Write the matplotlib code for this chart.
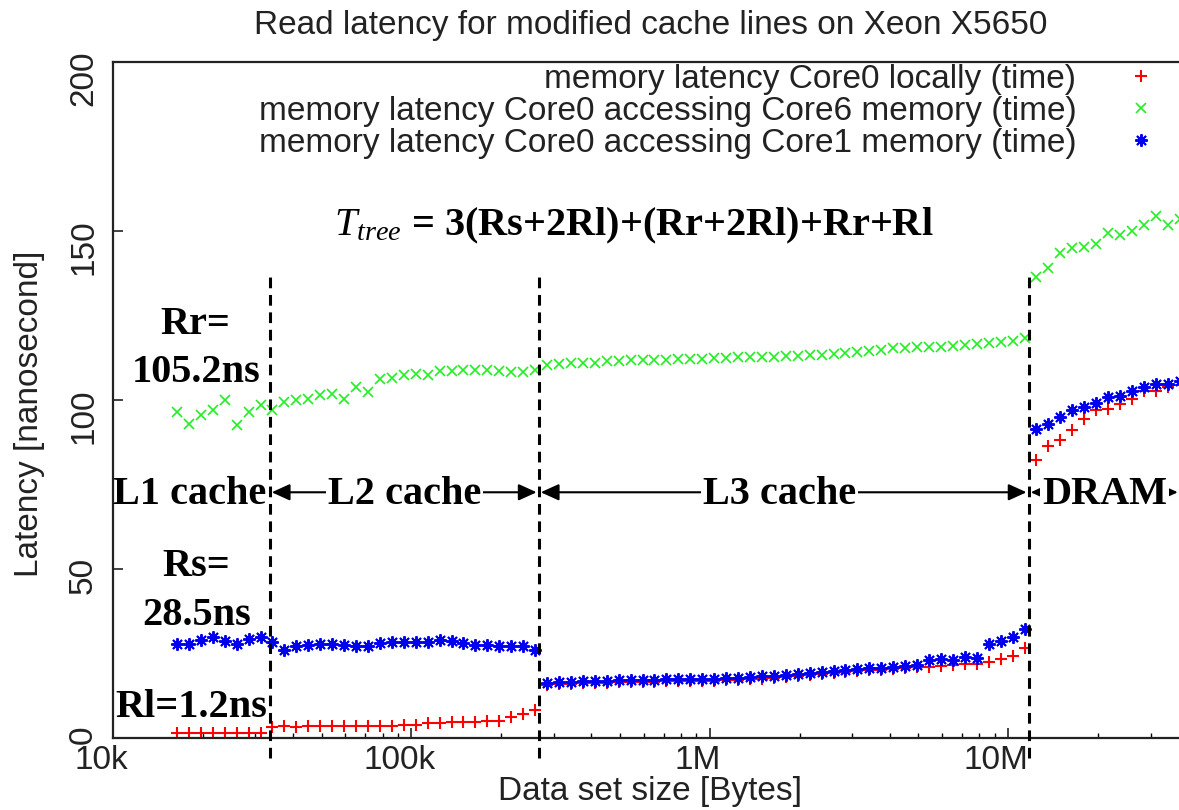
import matplotlib

matplotlib.use("Agg")
import matplotlib.pyplot as plt
import numpy as np
from matplotlib.ticker import LogLocator, NullFormatter
from matplotlib.transforms import ScaledTranslation

# benchmark sizes in bytes: 16 KiB upwards, 25 steps per decade
sizes = 16384 * 10 ** (np.arange(86) / 25)

# latency in ns, split by cache level (L1, L2, L3, DRAM)
local_l1 = [1.5, 1.6, 1.5, 1.6, 1.6, 1.5, 1.6, 1.6]
local_l2 = [3.4, 3.5, 3.4, 3.5, 3.5, 3.5, 3.5, 3.6, 3.5, 3.6, 3.6, 3.7,
            3.8, 4.3, 4.5, 4.6, 4.7, 4.8, 4.9, 5.0, 6.3, 7.2, 8.2]
local_l3 = [15.8, 15.9, 16.0, 16.2, 16.3, 16.4, 16.5, 16.6, 16.6, 16.7,
            16.8, 16.8, 16.9, 16.9, 17.0, 17.1, 17.2, 17.4, 17.6, 17.8,
            18.1, 18.4, 18.6, 18.9, 19.2, 19.4, 19.7, 20.0, 20.2, 20.5,
            20.7, 20.9, 21.0, 21.3, 21.6, 21.8, 22.0, 22.6, 23.5, 24.3, 26.5]
local_dram = [82.2, 86.5, 88.1, 91.1, 94.5, 97.0, 97.2, 98.9, 100.4,
              102.8, 102.8, 103.8, 104.5, 105.0]

core6_l1 = [96.5, 93.0, 95.5, 97.0, 99.9, 92.5, 96.5, 98.4]
core6_l2 = [97.0, 99.4, 99.9, 100.4, 101.4, 101.9, 100.4, 103.8, 102.4,
            106.3, 106.5, 107.3, 107.8, 107.4, 108.7, 108.7, 109.0, 109.0,
            109.0, 108.7, 108.4, 108.4, 109.0]
core6_l3 = [110.5, 110.7, 110.9, 111.0, 111.0, 111.4, 111.6, 111.8, 111.8,
            111.8, 111.9, 112.0, 112.1, 112.2, 112.4, 112.5, 112.6, 112.6,
            112.8, 112.8, 112.9, 113.0, 113.2, 113.4, 113.5, 113.8, 114.2,
            114.5, 114.9, 115.3, 115.5, 115.6, 115.7, 115.8, 116.0, 116.3,
            116.6, 116.8, 117.1, 117.6, 118.3]
core6_dram = [136.5, 139.1, 143.5, 145.0, 145.3, 146.3, 149.4, 148.9,
              150.0, 151.9, 154.3, 151.9, 153.5, 155.0]

core1_l1 = [27.9, 27.8, 29.1, 29.8, 28.8, 27.9, 29.3, 29.8]
core1_l2 = [28.3, 25.9, 27.1, 27.6, 27.8, 27.8, 27.5, 27.3, 27.1, 28.2,
            28.3, 28.4, 28.3, 28.5, 29.0, 28.6, 28.0, 27.5, 27.4, 27.3,
            27.3, 27.1, 26.1]
core1_l3 = [16.4, 16.5, 16.6, 16.8, 16.9, 17.0, 17.1, 17.2, 17.2, 17.3,
            17.4, 17.4, 17.5, 17.5, 17.6, 17.7, 17.8, 18.0, 18.2, 18.4,
            18.7, 19.0, 19.2, 19.5, 19.8, 20.0, 20.3, 20.6, 20.8, 21.1,
            21.3, 21.6, 23.2, 23.5, 23.0, 24.0, 23.6, 27.8, 28.8, 29.8, 32.3]
core1_dram = [91.4, 93.0, 95.0, 97.0, 97.9, 99.2, 100.9, 101.1, 102.6,
              103.8, 104.6, 104.8, 105.5, 106.0]

local = local_l1 + local_l2 + local_l3 + local_dram
core6 = core6_l1 + core6_l2 + core6_l3 + core6_dram
core1 = core1_l1 + core1_l2 + core1_l3 + core1_dram

# cache boundaries as drawn on the figure (bytes)
boundaries = [33.5e3, 267e3, 11.7e6]
levels = ["L1 cache", "L2 cache", "L3 cache", "DRAM"]
level_x = [18e3, 95e3, 1.71e6, 21e6]

plt.rcParams["font.family"] = "Liberation Sans"
plt.rcParams["mathtext.fontset"] = "custom"
plt.rcParams["mathtext.rm"] = "Liberation Serif"
plt.rcParams["mathtext.it"] = "Liberation Serif:italic"
plt.rcParams["mathtext.bf"] = "Liberation Serif:bold"

fs = 24
ink = "#222222"

fig = plt.figure(figsize=(11.79, 8.10), dpi=100)
ax = fig.add_axes([113 / 1179, 72 / 810, 1142 / 1179, 676 / 810])

ax.plot(sizes, local, ls="none", marker="+", ms=9, mew=1.5, color="#ff0000",
        label="memory latency Core0 locally (time)")
ax.plot(sizes, core6, ls="none", marker="x", ms=7.5, mew=1.2, color="#22ee22",
        label="memory latency Core0 accessing Core6 memory (time)")
ax.plot(sizes, core1, ls="none", marker=(8, 2, 0), ms=9, mew=1.4,
        color="#0000ee", label="memory latency Core0 accessing Core1 memory (time)")

ax.set_xscale("log")
ax.set_xlim(1e4, 2**26)
ax.set_ylim(0, 200)

ax.set_xticks([1e4, 1e5, 1e6, 1e7], ["10k", "100k", "1M", "10M"])
ax.xaxis.set_minor_locator(LogLocator(subs=np.arange(2, 10)))
ax.xaxis.set_minor_formatter(NullFormatter())
ax.set_yticks([0, 50, 100, 150, 200])
ax.tick_params(which="major", direction="in", length=7, width=1.2,
               labelsize=fs, colors=ink, top=False, right=False)
ax.tick_params(which="minor", direction="in", length=3.5, width=1, top=False)
ax.tick_params(axis="x", pad=5)
ax.tick_params(axis="y", labelrotation=90, pad=10)
# gnuplot puts the x labels a bit left of their ticks
shift = ScaledTranslation(-12 / 100, 0, fig.dpi_scale_trans)
for lbl in ax.get_xticklabels():
    lbl.set_transform(lbl.get_transform() + shift)

for s in ax.spines.values():
    s.set_linewidth(1.6)
    s.set_color(ink)

ax.set_xlabel("Data set size [Bytes]", fontsize=fs, color=ink)
ax.xaxis.set_label_coords(537 / 1142, -38 / 676)
ax.set_ylabel("Latency [nanosecond]", fontsize=fs, color=ink)
ax.yaxis.set_label_coords(-68 / 1142, 0.48)

fig.text(651 / 1179, 1 - 34 / 810,
         "Read latency for modified cache lines on Xeon X5650",
         ha="center", va="baseline", fontsize=fs, color=ink)

ax.legend(loc="upper right", bbox_to_anchor=(1158 / 1179, 1 - 64 / 810),
          bbox_transform=fig.transFigure, frameon=False, markerfirst=False,
          handlelength=1.0, handletextpad=1.45, labelspacing=0.03,
          borderpad=0, borderaxespad=0, fontsize=fs, labelcolor=ink)

# cache boundaries
for b in boundaries:
    ax.plot([b, b], [-6, 137], color="black", lw=2.2, ls=(0, (3.5, 2.2)),
            clip_on=False, zorder=4)

gap = 1.016
arrow_y = 72.7
spans = [(boundaries[0] * gap, boundaries[1] / gap),
         (boundaries[1] * gap, boundaries[2] / gap),
         (boundaries[2] * gap, 3.7e7)]
for lo, hi in spans:
    ax.annotate("", xy=(hi, arrow_y), xytext=(lo, arrow_y),
                arrowprops=dict(arrowstyle="<|-|>,head_length=1.1,head_width=0.5",
                                color="black", lw=1.5, shrinkA=0, shrinkB=0),
                annotation_clip=False, zorder=3)

serif = dict(family="Liberation Serif", weight="bold", fontsize=29,
             color="black")
for i, (name, x) in enumerate(zip(levels, level_x)):
    # L1 has no arrow behind it, the others sit on top of one
    box = None if i == 0 else dict(boxstyle="square,pad=0.05", fc="white", ec="none")
    ax.text(x, 69.1, name, ha="center", va="baseline", zorder=5, bbox=box,
            **serif)

ax.text(1.88e4, 119.4, "Rr=", ha="center", va="baseline", **serif)
ax.text(1.9e4, 105.3, "105.2ns", ha="center", va="baseline", **serif)
ax.text(1.9e4, 47.9, "Rs=", ha="center", va="baseline", **serif)
ax.text(1.9e4, 33.5, "28.5ns", ha="center", va="baseline", **serif)
ax.text(1.83e4, 6.2, "Rl=1.2ns", ha="center", va="baseline", **serif)
ax.text(5.5e4, 148.8, r"$T_{tree}$ = 3(Rs+2Rl)+(Rr+2Rl)+Rr+Rl",
        ha="left", va="baseline", **serif)

fig.savefig("out.png", dpi=100)
